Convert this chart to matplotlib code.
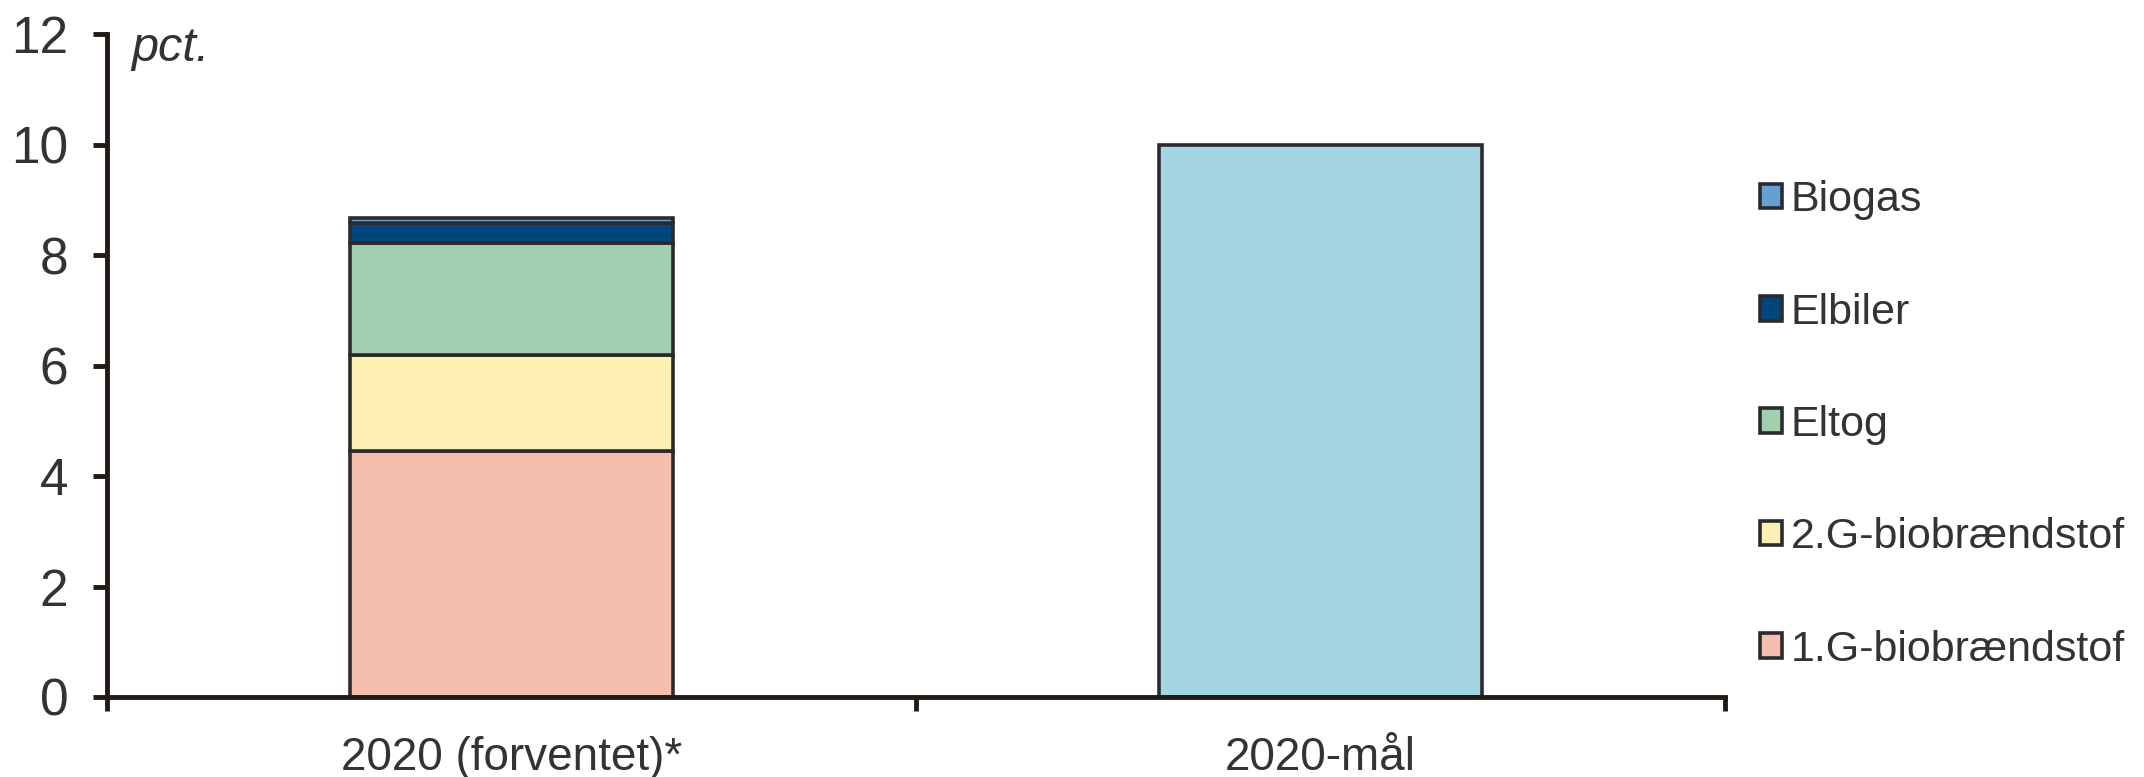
import matplotlib
matplotlib.use('Agg')
import matplotlib.pyplot as plt
import numpy as np

plt.rcParams['font.family'] = ['Liberation Sans', 'DejaVu Sans']

categories = ['2020 (forventet)*', '2020-mål']
series_names = ['1.G-biobrændstof', '2.G-biobrændstof', 'Eltog', 'Elbiler', 'Biogas']
series_values = [4.45, 1.75, 2.02, 0.36, 0.09]
series_colors = ['#f5bfb0', '#feefb3', '#a1d0b0', '#00457c', '#64a0d0']
target_value = 10.0
target_color = '#a5d5e2'

text_color = '#333333'
edge_color = '#2b2b2f'
axis_color = '#231a15'

fig = plt.figure(figsize=(21.44, 7.77), dpi=100)
ax = fig.add_axes([0.05, 0.103, 0.7546, 0.853])

bottom = 0.0
for name, val, col in zip(series_names, series_values, series_colors):
    ax.bar(0, val, bottom=bottom, width=0.4, color=col, edgecolor=edge_color,
           linewidth=2.6, label=name)
    bottom += val
ax.bar(1, target_value, width=0.4, color=target_color, edgecolor=edge_color, linewidth=2.6)

ax.set_xlim(-0.5, 1.5)
ax.set_ylim(0, 12)
ax.set_yticks(np.arange(0, 13, 2))
ax.set_xticks([-0.5, 0.5, 1.5])
ax.set_xticklabels([])
ax.set_xticks([0, 1], minor=True)
ax.set_xticklabels(categories, minor=True)

for s in ['top', 'right']:
    ax.spines[s].set_visible(False)
for s in ['left', 'bottom']:
    ax.spines[s].set_color(axis_color)
    ax.spines[s].set_linewidth(3.5)

ax.tick_params(axis='y', direction='out', length=10, width=3.5, color=axis_color,
               labelsize=37, labelcolor=text_color, pad=18)
ax.tick_params(axis='x', which='major', direction='out', length=10, width=3.5,
               color=axis_color)
ax.tick_params(axis='x', which='minor', length=0, labelsize=33,
               labelcolor=text_color, pad=28)

ax.text(0.015, 0.979, 'pct.', transform=ax.transAxes, fontsize=35, style='italic',
        color=text_color, va='center', ha='left')

handles, labels = ax.get_legend_handles_labels()
leg = ax.legend(handles[::-1], labels[::-1], loc='center left',
                bbox_to_anchor=(0.803, 0.453), bbox_transform=fig.transFigure,
                frameon=False, fontsize=31, handlelength=0.5, handleheight=0.5,
                handletextpad=0.2, labelspacing=1.68)
for t in leg.get_texts():
    t.set_color(text_color)

fig.savefig('out.png', dpi=100)
